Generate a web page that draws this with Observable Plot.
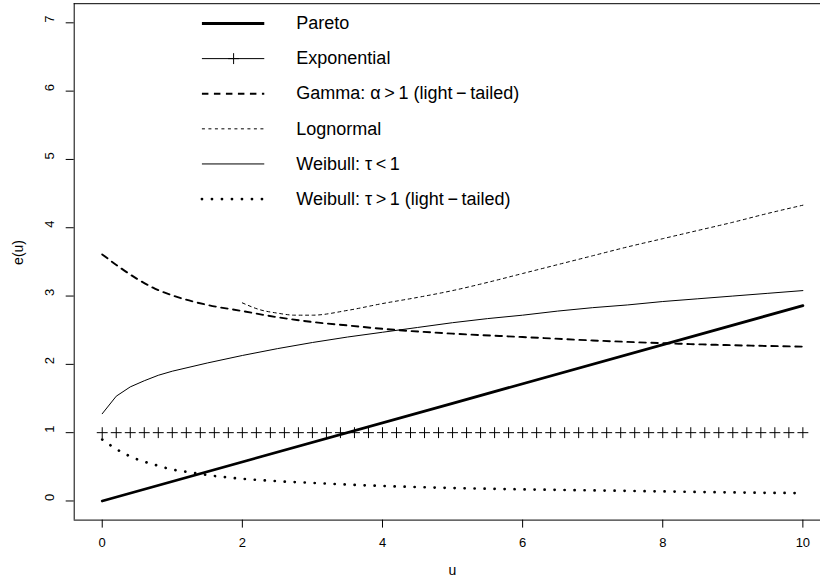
<!DOCTYPE html>
<html>
<head>
<meta charset="utf-8">
<script src="https://cdn.jsdelivr.net/npm/d3@7"></script>
<script src="https://cdn.jsdelivr.net/npm/@observablehq/plot@0.6"></script>
<style>
  html, body { margin: 0; padding: 0; background: white; overflow: hidden; width: 820px; height: 581px; }
  #chart { width: 820px; height: 581px; overflow: hidden; }
  #chart svg { display: block; }
</style>
</head>
<body>
<div id="chart"></div>
<script>
// ---- data ----
const xTicks = [0, 2, 4, 6, 8, 10];
const yTicks = [0, 1, 2, 3, 4, 5, 6, 7];

const paretoU = [0, 5, 10];
const paretoE = [0, 1.43, 2.86];

const expU = [0, 0.2, 0.4, 0.6, 0.8, 1, 1.2, 1.4, 1.6, 1.8, 2, 2.2, 2.4, 2.6, 2.8, 3, 3.2, 3.4, 3.6, 3.8,
              4, 4.2, 4.4, 4.6, 4.8, 5, 5.2, 5.4, 5.6, 5.8, 6, 6.2, 6.4, 6.6, 6.8, 7, 7.2, 7.4, 7.6, 7.8,
              8, 8.2, 8.4, 8.6, 8.8, 9, 9.2, 9.4, 9.6, 9.8, 10];
const expE = expU.map(() => 1);

const gammaU = [0, 0.25, 0.5, 0.75, 1, 1.5, 2, 2.5, 3, 3.5, 4, 5, 6, 7, 8, 9, 10];
const gammaE = [3.61, 3.42, 3.25, 3.11, 3.01, 2.87, 2.78, 2.69, 2.62, 2.57, 2.52, 2.45, 2.40, 2.35, 2.31, 2.28, 2.26];

const lognU = [2, 2.25, 2.5, 2.75, 3, 3.5, 4, 4.5, 5, 5.5, 6, 6.5, 7, 7.5, 8, 8.5, 9, 9.5, 10];
const lognE = [2.90, 2.80, 2.75, 2.72, 2.72, 2.79, 2.89, 2.98, 3.08, 3.20, 3.33, 3.46, 3.59, 3.72, 3.84, 3.96, 4.08, 4.21, 4.33];

const weib1U = [0, 0.2, 0.4, 0.6, 0.8, 1, 1.5, 2, 2.5, 3, 3.5, 4, 4.5, 5, 5.5, 6, 6.5, 7, 7.5, 8, 8.5, 9, 9.5, 10];
const weib1E = [1.277, 1.534, 1.67, 1.76, 1.84, 1.90, 2.02, 2.13, 2.23, 2.32, 2.40, 2.47, 2.54, 2.61, 2.67, 2.72, 2.78, 2.83, 2.87, 2.92, 2.96, 3.00, 3.04, 3.08];

const weib2U = [0, 0.25, 0.5, 0.75, 1, 1.25, 1.5, 2, 2.5, 3, 3.5, 4, 5, 6, 7, 8, 9, 10];
const weib2E = [0.90, 0.73, 0.61, 0.53, 0.46, 0.42, 0.38, 0.325, 0.29, 0.265, 0.24, 0.22, 0.19, 0.17, 0.155, 0.14, 0.125, 0.115];

const legendLabels = [
  "Pareto",
  "Exponential",
  "Gamma: \u03b1\u2009>\u20091 (light\u2009\u2212\u2009tailed)",
  "Lognormal",
  "Weibull: \u03c4\u2009<\u20091",
  "Weibull: \u03c4\u2009>\u20091 (light\u2009\u2212\u2009tailed)"
];

// ---- styles ----
const styles = {
  pareto: {stroke: "black", strokeWidth: 2.8},
  gamma:  {stroke: "black", strokeWidth: 1.9, strokeDasharray: "6.5,5.5"},
  logn:   {stroke: "black", strokeWidth: 1, strokeDasharray: "3,3.5"},
  weib1:  {stroke: "black", strokeWidth: 1},
  weib2:  {stroke: "black", strokeWidth: 2.7, strokeDasharray: "0.1,9.9", strokeLinecap: "round"}
};

const toRows = (us, es) => us.map((u, i) => ({u, e: es[i]}));

const xDom = [-0.4, 10.4], yDom = [-0.28, 7.28];

// legend placement in user coordinates (like R's legend)
const legX1 = 1.43, legX2 = 2.32, legTextX = 2.77, legTop = 6.99, legStep = 0.514;
const legRows = legendLabels.map((label, i) => ({label, i, y: legTop - legStep * i}));
const legLine = (i, st) => Plot.ruleY([legRows[i]], {y: "y", x1: legX1, x2: legX2, ...st});

const chart = Plot.plot({
  width: 820,
  height: 581,
  marginLeft: 73.7,
  marginRight: 0,
  marginTop: 3.2,
  marginBottom: 61.4,
  x: {domain: xDom, range: [73.7, 830.4]},
  y: {domain: yDom},
  style: {fontFamily: "'Liberation Sans', Arial, Helvetica, sans-serif", fontSize: "13px", background: "white", color: "black"},
  marks: [
    // box (its right side lies beyond the picture)
    Plot.ruleX([xDom[0]], {x: d => d, y1: yDom[0], y2: yDom[1], stroke: "black"}),
    Plot.ruleY([yDom[0], yDom[1]], {y: d => d, x1: xDom[0], x2: xDom[1], stroke: "black"}),
    Plot.axisX({ticks: xTicks, tickSize: 8, tickPadding: 10, label: null, fontSize: 13}),
    Plot.axisY({ticks: yTicks, tickSize: 8, tickFormat: () => "", label: null}),
    Plot.text(yTicks, {y: d => d, frameAnchor: "left", dx: -24, rotate: -90, text: d => String(d), fontSize: 13}),
    Plot.text(["u"], {frameAnchor: "bottom", dx: 5, dy: 55, text: d => d, fontSize: 14}),
    Plot.text(["e(u)"], {frameAnchor: "left", dx: -56, dy: 3, rotate: -90, text: d => d, fontSize: 14}),

    Plot.line(toRows(paretoU, paretoE), {x: "u", y: "e", ...styles.pareto}),
    Plot.dot(toRows(expU, expE), {x: "u", y: "e", symbol: "plus", r: 3.6, stroke: "black", strokeWidth: 1}),
    Plot.line(toRows(gammaU, gammaE), {x: "u", y: "e", curve: "monotone-x", ...styles.gamma}),
    Plot.line(toRows(lognU, lognE), {x: "u", y: "e", curve: "monotone-x", ...styles.logn}),
    Plot.line(toRows(weib1U, weib1E), {x: "u", y: "e", ...styles.weib1}),
    Plot.line(toRows(weib2U, weib2E), {x: "u", y: "e", curve: "monotone-x", ...styles.weib2}),

    // legend
    legLine(0, styles.pareto),
    legLine(1, {stroke: "black", strokeWidth: 1}),
    Plot.dot([legRows[1]], {x: (legX1 + legX2) / 2, y: "y", symbol: "plus", r: 3.6, stroke: "black", strokeWidth: 1}),
    legLine(2, styles.gamma),
    legLine(3, styles.logn),
    legLine(4, styles.weib1),
    legLine(5, styles.weib2),
    Plot.text(legRows, {x: legTextX, y: "y", text: "label", textAnchor: "start", fontSize: 18})
  ]
});
document.getElementById("chart").appendChild(chart);
</script>
</body>
</html>
